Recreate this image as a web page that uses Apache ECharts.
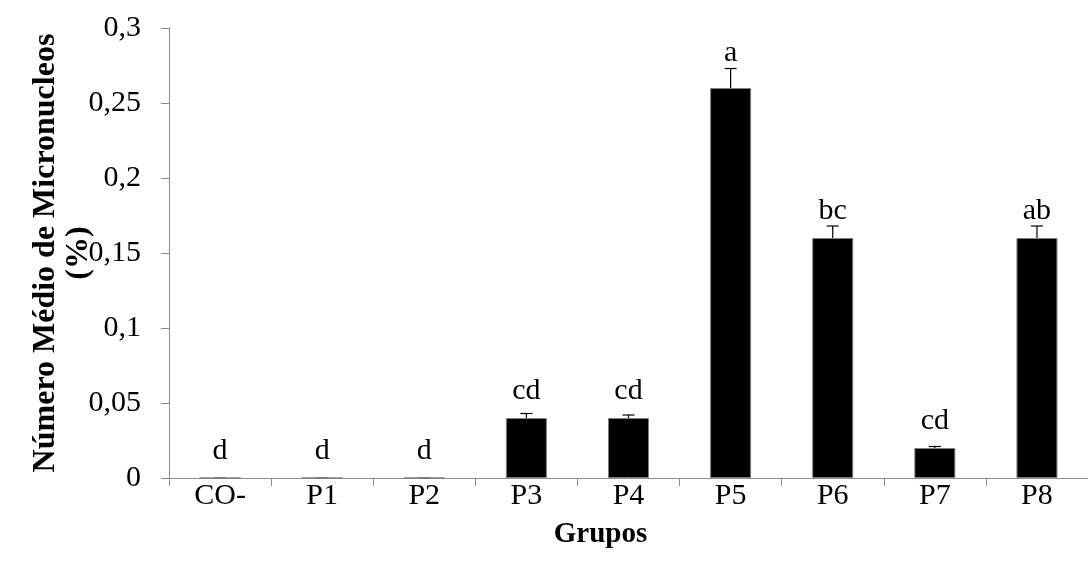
<!DOCTYPE html>
<html>
<head>
<meta charset="utf-8">
<script src="https://cdn.jsdelivr.net/npm/echarts@6/dist/echarts.min.js"></script>
<style>
html,body{margin:0;padding:0;background:#fff;}
#c{width:1088px;height:577px;}
</style>
</head>
<body>
<div id="c"></div>
<script>
const categories = ['CO-', 'P1', 'P2', 'P3', 'P4', 'P5', 'P6', 'P7', 'P8'];
const means = [0, 0, 0, 0.04, 0.04, 0.26, 0.16, 0.02, 0.16];
const errors = [0, 0, 0, 0.003, 0.002, 0.013, 0.008, 0.001, 0.008];
const letters = ['d', 'd', 'd', 'cd', 'cd', 'a', 'bc', 'cd', 'ab'];
const yTicks = [0, 0.05, 0.1, 0.15, 0.2, 0.25, 0.3];

const FONT = '"Liberation Serif", "Times New Roman", serif';
const FS = 30;

const chart = echarts.init(document.getElementById('c'));

const errData = categories.map((c, i) => [i, means[i], errors[i]]);

chart.setOption({
  animation: false,
  backgroundColor: '#ffffff',
  grid: { left: 169, top: 28, width: 930, height: 450, containLabel: false },
  xAxis: {
    type: 'category',
    data: categories,
    axisLine: { lineStyle: { color: '#8c8c8c', width: 1 } },
    axisTick: { show: true, length: 8, lineStyle: { color: '#8c8c8c' } },
    axisLabel: { color: '#000', fontFamily: FONT, fontSize: FS, margin: 3 },
    name: 'Grupos',
    nameLocation: 'middle',
    nameGap: 42,
    nameMoveOverlap: false,
    nameTextStyle: { color: '#000', fontFamily: FONT, fontSize: 29, fontWeight: 'bold', padding: [0, 56, 0, 0] }
  },
  yAxis: {
    type: 'value',
    min: yTicks[0],
    max: yTicks[yTicks.length - 1],
    interval: yTicks[1] - yTicks[0],
    splitLine: { show: false },
    axisLine: { show: true, lineStyle: { color: '#8c8c8c', width: 1 } },
    axisTick: { show: true, length: 8, lineStyle: { color: '#8c8c8c' } },
    axisLabel: {
      color: '#000', fontFamily: FONT, fontSize: FS, margin: 28,
      formatter: v => String(+v.toFixed(2)).replace('.', ',')
    },
    name: 'Número Médio de Micronucleos\n(%)',
    nameLocation: 'middle',
    nameGap: 74,
    nameMoveOverlap: false,
    nameTextStyle: { color: '#000', fontFamily: FONT, fontSize: 32, fontWeight: 'bold', lineHeight: 33 }
  },
  series: [
    {
      type: 'bar',
      data: means,
      barWidth: 41,
      itemStyle: { color: '#000000', borderColor: '#7f7f7f', borderWidth: 1 },
      z: 2
    },
    {
      type: 'custom',
      data: errData,
      z: 3,
      renderItem: function (params, api) {
        const i = api.value(0);
        const m = api.value(1);
        const e = api.value(2);
        const p0 = api.coord([i, m]);
        const p1 = api.coord([i, m + e]);
        const x = p0[0];
        const half = 6;
        const baseline = Math.min(p0[1] - 21, p1[1] - 9);
        return {
          type: 'group',
          children: [
            { type: 'line', shape: { x1: x, y1: p0[1], x2: x, y2: p1[1] },
              style: { stroke: '#000', lineWidth: 1.2 } },
            { type: 'line', shape: { x1: x - half, y1: p1[1], x2: x + half, y2: p1[1] },
              style: { stroke: e === 0 ? '#6f6f6f' : '#000', lineWidth: 1.2 } },
            { type: 'text', x: x, y: baseline - 6,
              style: { text: letters[params.dataIndex], fill: '#000', font: FS + 'px ' + FONT,
                       align: 'center', verticalAlign: 'middle' } }
          ]
        };
      }
    }
  ]
});
</script>
</body>
</html>
